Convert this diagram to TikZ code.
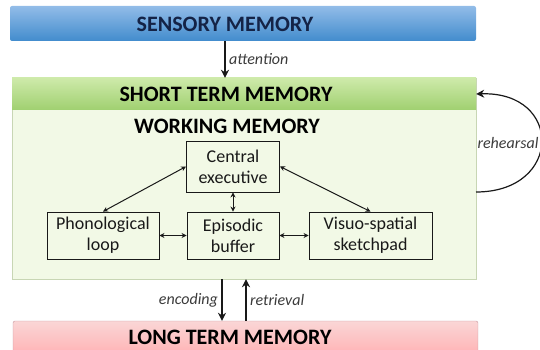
\documentclass[tikz,border=0pt]{standalone}
\usepackage{fontspec}
\setmainfont{Carlito}
\usepackage{tikz}
\usetikzlibrary{arrows.meta, positioning, calc}
\definecolor{mydark}{RGB}{25,25,25}
\definecolor{mynavy}{RGB}{20,35,70}
\definecolor{bluetop}{RGB}{146,188,232}
\definecolor{bluebot}{RGB}{66,140,205}
\definecolor{greentop}{RGB}{206,234,170}
\definecolor{greenbot}{RGB}{160,208,112}
\definecolor{greenbody}{RGB}{242,249,230}
\definecolor{greenline}{RGB}{200,214,180}
\definecolor{redtop}{RGB}{250,214,214}
\definecolor{redbot}{RGB}{255,178,180}
\definecolor{redline}{RGB}{196,150,158}
\tikzset{
  bar/.style={rectangle, rounded corners=2pt, shading=axis},
  title/.style={font=\fontsize{22}{24}\selectfont\bfseries, text=black},
  box/.style={rectangle, draw=mydark, line width=0.9pt,
    align=center, font=\fontsize{18}{21}\selectfont, text=mydark,
    inner sep=0pt},
  dblarrow/.style={{Stealth[length=5pt,width=5pt]}-{Stealth[length=5pt,width=5pt]},
    line width=1pt, color=mydark},
  arrow/.style={-{Stealth[length=8pt,width=8pt]}, line width=1.5pt, color=mydark},
  lbl/.style={font=\fontsize{16}{18}\selectfont\itshape, text=mydark!85}
}

\begin{document}
\begin{tikzpicture}[x=1pt, y=-1pt]
  \useasboundingbox (0,0) rectangle (540,350);
  % Memory stores
  \node[bar, top color=bluetop, bottom color=bluebot, minimum width=466pt,
    minimum height=35pt] (sensory) at (243,23.5) {};
  \node[title, text=mynavy] (sensorytxt) at (225,24) {SENSORY MEMORY};
  \node[rectangle, draw=greenline, fill=greenbody, minimum width=464pt,
    minimum height=201pt] (stm) at (244,178.5) {};
  \node[bar, top color=greentop, bottom color=greenbot, minimum width=464pt,
    minimum height=32pt, rounded corners=0pt] (stmhead) at (244,94) {};
  \node[title] (stmtxt) at (226,94) {SHORT TERM MEMORY};
  \node[bar, top color=redtop, bottom color=redbot, draw=redline, minimum width=465pt,
    minimum height=34pt] (ltm) at (245.5,338) {};
  \node[title] (ltmtxt) at (230,337) {LONG TERM MEMORY};
  \node[title] (wm) at (227,126) {WORKING MEMORY};
  % Working memory components
  \node[box, minimum width=93pt, minimum height=51pt] (ce) at (233,166.5) {Central\\executive};
  \node[box, minimum width=112pt, minimum height=47pt] (pl) at (103,235.5) {Phonological\\loop};
  \node[box, minimum width=92pt, minimum height=47pt] (eb) at (233,235.5) {Episodic\\buffer};
  \node[box, minimum width=123pt, minimum height=47pt] (vs) at (370.5,235.5) {Visuo-spatial\\sketchpad};
  \draw[dblarrow] (ce.west) -- (pl.north);
  \draw[dblarrow] (ce.east) -- (vs.north);
  \draw[dblarrow] (ce.south) -- (eb.north);
  \draw[dblarrow] (pl.east) -- (eb.west);
  \draw[dblarrow] (eb.east) -- (vs.west);
  % Processes
  \draw[arrow] (sensory.south -| 225,0) -- (stm.north -| 225,0) node[midway, right, lbl] {attention};
  \draw[arrow] (stm.south -| 222,0) -- (ltm.north -| 222,0) node[midway, left, lbl] {encoding};
  \draw[arrow] (ltm.north -| 246,0) -- (stm.south -| 246,0) node[midway, right, lbl] {retrieval};
  \coordinate (loopout) at (476,192);
  \draw[arrow, line width=1.2pt] (loopout) .. controls (563,192) and (563,91) .. (stmhead.east);
  \node[lbl] (reh) at (508,143) {rehearsal};
\end{tikzpicture}
\end{document}
